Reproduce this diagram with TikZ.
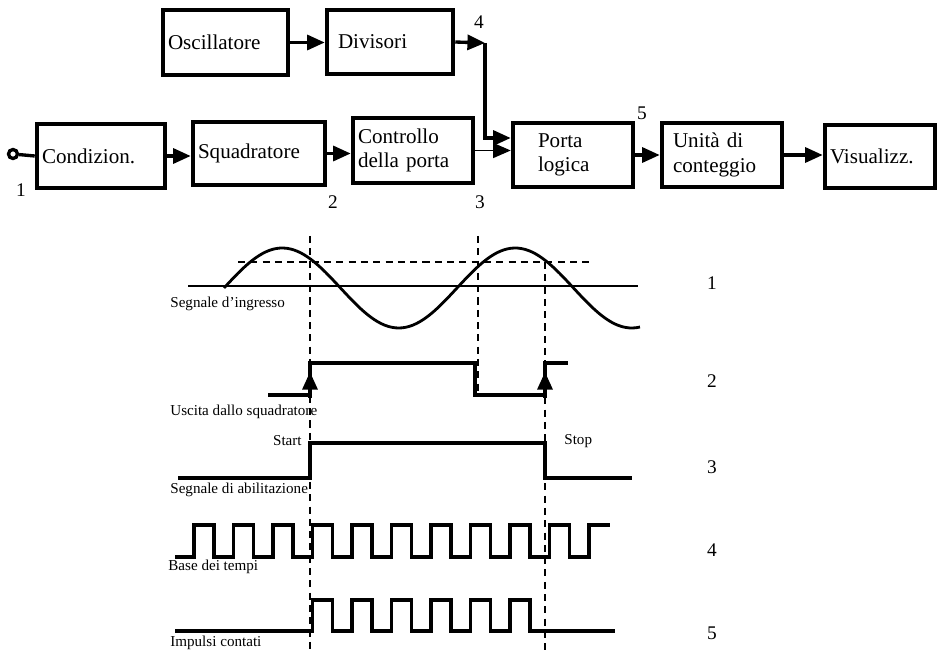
\documentclass[tikz,border=0pt]{standalone}
\usepackage{fontspec}
\setmainfont{Liberation Serif}
\usetikzlibrary{arrows.meta}

\begin{document}
\begin{tikzpicture}[x=0.02cm,y=-0.02cm,
  blocco/.style={draw,line width=2.6pt,align=left,inner xsep=0.1cm,inner ysep=0pt,font=\fontsize{12}{14}\selectfont},
  freccia/.style={line width=1.9pt,-{Triangle[length=10pt,width=8.5pt]}},
  numero/.style={inner sep=0pt,font=\fontsize{11}{12}\selectfont},
  etichetta/.style={anchor=west,inner sep=0pt,font=\fontsize{8.6}{10}\selectfont},
  onda/.style={line width=2.2pt},
  guida/.style={dash pattern=on 4pt off 3pt,line width=0.7pt}]

\useasboundingbox (0,0) rectangle (938,652);

% schema a blocchi
\node[blocco,text width=2.3cm,minimum height=1.3cm] (osc) at (225.5,42.5) {Oscillatore};
\node[blocco,inner xsep=0.22cm,text width=2.08cm,minimum height=1.28cm] (div) at (390,42) {Divisori};
\node[blocco,text width=2.36cm,minimum height=1.28cm] (cond) at (101,156) {Condizion.};
\node[blocco,text width=2.44cm,minimum height=1.26cm] (squad) at (259,153.5) {Squadratore};
\node[blocco,text width=2.2cm,minimum height=1.3cm] (ctrl) at (413,150.5) {Controllo\\della porta};
\node[blocco,inner xsep=0.5cm,text width=1.4cm,minimum height=1.28cm] (porta) at (573,155) {Porta\\logica};
\node[blocco,inner xsep=0.22cm,text width=1.96cm,minimum height=1.28cm] (unita) at (722,155) {Unità di\\conteggio};
\node[blocco,text width=2.0cm,minimum height=1.26cm] (vis) at (880,156.5) {Visualizz.};

\node[draw,circle,line width=1.9pt,inner sep=0pt,minimum size=0.18cm] (ingresso) at (13,154) {};
\coordinate (n4) at (485,43);

\draw[line width=1.9pt] (ingresso) -- (cond.west);
\draw[freccia] (osc.east) -- (osc.east -| div.west);
\draw[freccia] (div.east) -- (n4);
\draw[freccia] (n4) |- ([yshift=0.34cm]porta.west);
\draw[freccia] (cond.east) -- (cond.east -| squad.west);
\draw[freccia] (squad.east) -- (squad.east -| ctrl.west);
\draw[freccia,line width=0.9pt] (ctrl.east) -- (ctrl.east -| porta.west);
\draw[freccia] (porta.east) -- (unita.west);
\draw[freccia] (unita.east) -- (unita.east -| vis.west);

\node[numero] (p1) at (21,190) {1};
\node[numero] (p2) at (333,202) {2};
\node[numero] (p3) at (480,202) {3};
\node[numero] (p4) at (479,22) {4};
\node[numero] (p5) at (642,113) {5};

% diagramma dei tempi
\draw[line width=0.7pt] (188,286) -- (638,286);
\draw[guida] (238,262) -- (590,262);
\draw[line width=1.6pt] plot[domain=224:640,samples=120] (\x,{288-40*sin((\x-224)/233*360)});

\draw[guida] (310,236) -- (310,652);
\draw[guida] (478,236) -- (478,397);
\draw[guida] (545,262) -- (545,652);

\draw[onda] (268,395) -- (310,395) -- (310,363) -- (475,363) -- (475,395) -- (545,395) -- (545,363) -- (568,363);
\draw[freccia] (310,398) -- (310,372);
\draw[freccia] (545,398) -- (545,372);

\draw[onda] (178,478) -- (310,478) -- (310,443) -- (545,443) -- (545,478) -- (632,478);
\node[etichetta,anchor=east] (start) at (302,441) {Start};
\node[etichetta] (stop) at (564,441) {Stop};

\draw[onda] (175,557) foreach \k in {0,...,9} { -- ({194+39.5*\k},557) -- ++(0,-32) -- ++(20,0) -- ++(0,32) } -- (589,557) -- (589,525) -- (610,525);
\draw[onda] (175,631) foreach \k in {3,...,8} { -- ({194+39.5*\k},631) -- ++(0,-31) -- ++(20,0) -- ++(0,31) } -- (615,631);

\node[etichetta] (s1) at (170,304) {Segnale d'ingresso};
\node[etichetta] (s2) at (170,412) {Uscita dallo squadratore};
\node[etichetta] (s3) at (170,490) {Segnale di abilitazione};
\node[etichetta] (s4) at (168,567) {Base dei tempi};
\node[etichetta] (s5) at (170,643) {Impulsi contati};

\node[numero] (r1) at (712,283) {1};
\node[numero] (r2) at (712,381) {2};
\node[numero] (r3) at (712,467) {3};
\node[numero] (r4) at (712,550) {4};
\node[numero] (r5) at (712,633) {5};

\end{tikzpicture}
\end{document}
